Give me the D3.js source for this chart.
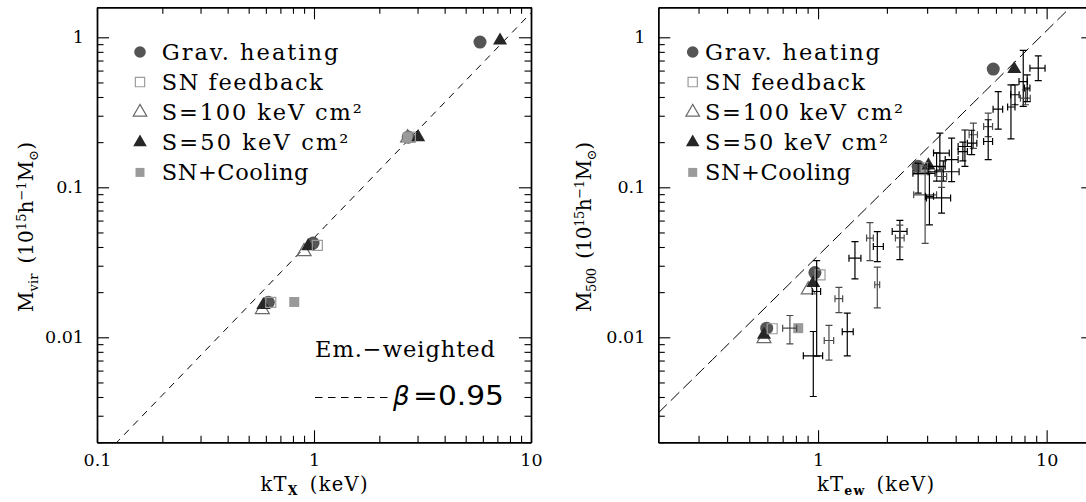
<!DOCTYPE html>
<html><head><meta charset="utf-8">
<script src="https://cdn.jsdelivr.net/npm/d3@7"></script>
<style>
html,body{margin:0;padding:0;background:#fff;overflow:hidden}
svg{display:block}
text{font-family:"DejaVu Serif",serif;fill:#000}
</style></head><body>
<svg id="fig" width="1086" height="502"></svg>
<script>
// ---------------- data ----------------
const massTicks = [0.01, 0.1, 1];
const massTickLabels = ["0.01", "0.1", "1"];
const massMinor = [0.002,0.003,0.004,0.005,0.006,0.007,0.008,0.009,
                   0.02,0.03,0.04,0.05,0.06,0.07,0.08,0.09,
                   0.2,0.3,0.4,0.5,0.6,0.7,0.8,0.9];
const txTicks = [0.1, 1, 10];
const txTickLabels = ["0.1", "1", "10"];
const txMinor = [0.2,0.3,0.4,0.5,0.6,0.7,0.8,0.9,2,3,4,5,6,7,8,9];
const tewTicks = [1, 10];
const tewTickLabels = ["1", "10"];
const tewMinor = [0.3,0.4,0.5,0.6,0.7,0.8,0.9,2,3,4,5,6,7,8,9];

const seriesNames = ["Grav. heating", "SN feedback", "S=100 keV cm\u00b2", "S=50 keV cm\u00b2", "SN+Cooling"];

// left panel: emission-weighted kT_X (keV) vs M_vir (1e15 h^-1 Msun)
const gravTX   = [0.616, 0.99, 2.72, 5.82];
const gravMvir = [0.0171, 0.0425, 0.216, 0.929];
const snfbTX   = [0.632, 1.036, 2.78];
const snfbMvir = [0.0171, 0.041, 0.216];
const s100TX   = [0.578, 0.90, 2.70];
const s100Mvir = [0.0153, 0.0373, 0.214];
const s50TX    = [0.584, 0.94, 3.02, 7.2];
const s50Mvir  = [0.0164, 0.0405, 0.216, 0.952];
const sncTX    = [0.811, 2.70];
const sncMvir  = [0.0172, 0.215];

// right panel: kT_ew (keV) vs M_500
const gravTew  = [0.596, 0.969, 2.74, 5.84];
const gravM500 = [0.0115, 0.027, 0.138, 0.614];
const snfbTew  = [0.63, 1.02, 2.88];
const snfbM500 = [0.0114, 0.0261, 0.135];
const s100Tew  = [0.58, 0.906, 2.80];
const s100M500 = [0.0098, 0.0207, 0.130];
const s50Tew   = [0.58, 0.953, 3.04, 7.22];
const s50M500  = [0.0104, 0.023, 0.140, 0.614];
const sncTew   = [0.819, 2.95];
const sncM500  = [0.0115, 0.130];

// observed clusters with errors (T, T range, M500, M500 range, grey set flag)
const obsT   = [0.753,0.953,0.986,1.116,1.234,1.342,1.45,1.686,1.816,1.816,2.28,2.28,
                2.74,2.94,3.07,3.47,3.30,3.41,3.53,3.84,3.47,4.39,4.78,4.70,4.30,
                5.55,5.55,6.14,6.98,7.27,7.90,8.08,8.22,9.19];
const obsTlo = [0.70,0.862,0.943,1.064,1.186,1.276,1.365,1.63,1.745,1.77,2.11,2.18,
                2.60,2.62,2.95,2.98,3.05,3.20,3.03,3.60,3.30,4.10,4.58,4.50,4.10,
                5.30,5.30,5.83,6.75,6.96,7.57,7.68,8.00,8.45];
const obsThi = [0.806,1.047,1.026,1.17,1.281,1.425,1.54,1.745,1.93,1.86,2.45,2.38,
                3.25,3.30,3.20,3.80,3.60,3.75,4.14,4.10,3.65,4.70,4.98,4.95,4.50,
                5.80,5.80,6.42,7.27,7.58,8.24,8.48,8.45,9.84];
const obsM   = [0.0115,0.00753,0.0202,0.00952,0.0181,0.0109,0.0337,0.0459,0.0403,0.0224,0.0508,0.046,
                0.124,0.0891,0.0871,0.085,0.138,0.169,0.127,0.153,0.118,0.187,0.224,0.197,0.173,
                0.254,0.202,0.332,0.343,0.414,0.507,0.393,0.459,0.623];
const obsMlo = [0.00905,0.00403,0.0075,0.00705,0.0146,0.00753,0.0245,0.0324,0.032,0.0157,0.0329,0.040,
                0.0915,0.0423,0.0562,0.0673,0.110,0.130,0.110,0.109,0.100,0.138,0.182,0.165,0.150,
                0.218,0.153,0.244,0.210,0.355,0.346,0.355,0.373,0.515];
const obsMhi = [0.01397,0.01093,0.0324,0.012,0.0215,0.0145,0.0435,0.0582,0.0507,0.0294,0.0601,0.056,
                0.145,0.138,0.124,0.118,0.170,0.230,0.150,0.213,0.135,0.241,0.268,0.240,0.200,
                0.312,0.282,0.435,0.482,0.482,0.817,0.447,0.562,0.753];
const obsGrey = [1,0,0,1,1,0,0,1,0,1,0,1,
                 0,1,0,0,0,0,0,0,1,0,1,0,0,
                 1,0,0,0,0,0,1,0,0];

// scaling-relation slope and normalisations (beta = 0.95)
const relSlope = 1.5;
const relNormX = 0.046;
const relNormEw = 0.035;

// ---------------- drawing ----------------
const svg = d3.select("#fig");
const massDomain = [Math.pow(10,-2.7), Math.pow(10,0.2)];
const top0 = 7.3, bot0 = 442.3;

const styles = {
  grav: {sym: d3.symbolCircle, size: 133, fill: "#555", stroke: "none"},
  snfb: {sym: d3.symbolSquare, size: 100, fill: "none", stroke: "#9c9c9c"},
  s100: {sym: d3.symbolTriangle, size: 85, fill: "none", stroke: "#6a6a6a"},
  s50:  {sym: d3.symbolTriangle, size: 85, fill: "#262626", stroke: "none"},
  snc:  {sym: d3.symbolSquare, size: 100, fill: "#9a9a9a", stroke: "none"}
};
const legendSize = {grav: 106, snfb: 86, s100: 80, s50: 80, snc: 81};
const legendKeys = ["grav","snfb","s100","s50","snc"];

function makePanel(id, xDom, xLeft, xRight) {
  const g = svg.append("g").attr("id", id);
  const x = d3.scaleLog().domain(xDom).range([xLeft, xRight]);
  const y = d3.scaleLog().domain(massDomain).range([bot0, top0]);
  g.append("clipPath").attr("id", id + "-clip").append("rect")
    .attr("x", xLeft).attr("y", top0).attr("width", xRight - xLeft).attr("height", bot0 - top0);
  return {g, x, y};
}

function drawAxes(p, xMajor, xLabels, xMinor) {
  const {g, x, y} = p;
  const [X0, X1] = x.range();
  const lab = (vals, labels) => d => labels[vals.indexOf(d)];
  const style = sel => {
    sel.attr("font-size", null).attr("font-family", null);
    sel.selectAll("path.domain").attr("stroke", "#000").attr("stroke-width", 1.4);
    sel.selectAll(".tick line").attr("stroke", "#000").attr("stroke-width", 1.1);
    sel.selectAll(".tick text").style("font-size", "17.5px").attr("fill", "#000");
  };
  // bottom
  g.append("g").attr("transform", `translate(0,${bot0})`)
    .call(d3.axisBottom(x).tickValues(xMajor).tickFormat(lab(xMajor, xLabels)).tickSizeInner(-12).tickSizeOuter(0).tickPadding(11)).call(style);
  g.append("g").attr("transform", `translate(0,${bot0})`)
    .call(d3.axisBottom(x).tickValues(xMinor).tickFormat("").tickSizeInner(-6.5).tickSizeOuter(0)).call(style);
  // top
  g.append("g").attr("transform", `translate(0,${top0})`)
    .call(d3.axisTop(x).tickValues(xMajor).tickFormat("").tickSizeInner(-12).tickSizeOuter(0)).call(style);
  g.append("g").attr("transform", `translate(0,${top0})`)
    .call(d3.axisTop(x).tickValues(xMinor).tickFormat("").tickSizeInner(-6.5).tickSizeOuter(0)).call(style);
  // left
  g.append("g").attr("transform", `translate(${X0},0)`)
    .call(d3.axisLeft(y).tickValues(massTicks).tickFormat(lab(massTicks, massTickLabels)).tickSizeInner(-12).tickSizeOuter(0).tickPadding(13)).call(style);
  g.append("g").attr("transform", `translate(${X0},0)`)
    .call(d3.axisLeft(y).tickValues(massMinor).tickFormat("").tickSizeInner(-6.5).tickSizeOuter(0)).call(style);
  // right
  g.append("g").attr("transform", `translate(${X1},0)`)
    .call(d3.axisRight(y).tickValues(massTicks).tickFormat("").tickSizeInner(-12).tickSizeOuter(0)).call(style);
  g.append("g").attr("transform", `translate(${X1},0)`)
    .call(d3.axisRight(y).tickValues(massMinor).tickFormat("").tickSizeInner(-6.5).tickSizeOuter(0)).call(style);
}

function drawRelation(p, id, norm, dash) {
  const {g, x, y} = p;
  const ts = d3.range(0, 41).map(i => x.domain()[0] * Math.pow(x.domain()[1] / x.domain()[0], i / 40));
  g.append("path").attr("clip-path", `url(#${id}-clip)`)
    .attr("d", d3.line().x(t => x(t)).y(t => y(norm * Math.pow(t, relSlope)))(ts))
    .attr("fill", "none").attr("stroke", "#000").attr("stroke-width", 1).attr("stroke-dasharray", dash);
}

function drawSeries(p, key, ts, ms) {
  const {g, x, y} = p;
  const s = styles[key];
  g.append("g").selectAll("path").data(ts.map((t, i) => [t, ms[i]])).join("path")
    .attr("transform", d => `translate(${x(d[0])},${y(d[1])})`)
    .attr("d", d3.symbol(s.sym, s.size))
    .attr("fill", s.fill).attr("stroke", s.stroke).attr("stroke-width", 1.2);
}

function drawLegend(p, mx, tx, widths) {
  const {g} = p;
  legendKeys.forEach((k, i) => {
    const s = styles[k];
    g.append("path").attr("transform", `translate(${mx},${52 + 30.1 * i})`)
      .attr("d", d3.symbol(s.sym, legendSize[k]))
      .attr("fill", s.fill).attr("stroke", s.stroke).attr("stroke-width", 1.2);
    g.append("text").attr("x", tx).attr("y", 59.5 + 30.1 * i)
      .style("font-size", "22.5px")
      .attr("textLength", widths[i]).attr("lengthAdjust", "spacing")
      .text(seriesNames[i]);
  });
}

function massTitle(g, bx, cy, sub, len) {
  const t = g.append("text").attr("transform", `translate(${bx},${cy}) rotate(-90)`)
    .attr("text-anchor", "middle").style("font-size", "20px")
    .attr("textLength", len).attr("lengthAdjust", "spacing");
  t.append("tspan").text("M");
  t.append("tspan").attr("dy", 5).style("font-size", "13px").text(sub);
  t.append("tspan").attr("dy", -5).text("\u2002(10");
  t.append("tspan").attr("dy", -7).style("font-size", "13px").text("15");
  t.append("tspan").attr("dy", 7).text("h");
  t.append("tspan").attr("dy", -7).style("font-size", "13px").text("\u22121");
  t.append("tspan").attr("dy", 7).text("M");
  t.append("tspan").attr("dy", 5).style("font-size", "13px").text("\u2299");
  t.append("tspan").attr("dy", -5).text(")");
}

function tempTitle(g, cx, by, sub, len) {
  const t = g.append("text").attr("x", cx).attr("y", by).attr("text-anchor", "middle").style("font-size", "19.5px")
    .attr("textLength", len).attr("lengthAdjust", "spacing");
  t.append("tspan").text("kT");
  t.append("tspan").attr("dy", 4).style("font-size", "12.5px").style("font-weight", "bold").text(sub);
  t.append("tspan").attr("dy", -4).text("\u2002(keV)");
}

// ---- left panel ----
const L = makePanel("left", [0.1, 10], 97, 531);
drawRelation(L, "left", relNormX, "7,6");
drawSeries(L, "s100", s100TX, s100Mvir);
drawSeries(L, "grav", gravTX, gravMvir);
drawSeries(L, "snc", sncTX, sncMvir);
drawSeries(L, "s50", s50TX, s50Mvir);
drawSeries(L, "snfb", snfbTX, snfbMvir);
drawAxes(L, txTicks, txTickLabels, txMinor);
drawLegend(L, 140, 161.7, [176.7, 161, 200, 186.7, 146.7]);
massTitle(L.g, 33, 227, "vir", 170);
tempTitle(L.g, 314, 491, "X", 107);

L.g.append("text").attr("x", 315).attr("y", 357).style("font-size", "22.5px")
  .attr("textLength", 180).attr("lengthAdjust", "spacing").text("Em.\u2212weighted");
L.g.append("line").attr("x1", 315).attr("x2", 389).attr("y1", 397.5).attr("y2", 397.5)
  .attr("stroke", "#000").attr("stroke-width", 1).attr("stroke-dasharray", "7.5,5.5");
L.g.append("text").attr("x", 393).attr("y", 405).style("font-family", "'DejaVu Sans',sans-serif")
  .style("font-size", "26px").style("font-style", "italic").text("\u03b2");
L.g.append("text").attr("x", 413).attr("y", 405).style("font-family", "'DejaVu Sans',sans-serif")
  .style("font-size", "26px").attr("textLength", 91).attr("lengthAdjust", "spacingAndGlyphs").text("=0.95");

// ---- right panel ----
const R = makePanel("right", [0.2, 16], 658.3, 1093.3);
drawRelation(R, "right", relNormEw, "12,5.5");
drawSeries(R, "s100", s100Tew, s100M500);
drawSeries(R, "grav", gravTew, gravM500);
drawSeries(R, "snc", sncTew, sncM500);
drawSeries(R, "s50", s50Tew, s50M500);
drawSeries(R, "snfb", snfbTew, snfbM500);

// observed clusters: crosses with capped error bars
const cap = 3.5;
const obs = obsT.map((t, i) => ({t, tl: obsTlo[i], th: obsThi[i], m: obsM[i], ml: obsMlo[i], mh: obsMhi[i], grey: obsGrey[i]}));
const eb = R.g.append("g").attr("stroke-width", 1.2).attr("fill", "none");
obs.forEach(d => {
  const c = d.grey ? "#4a4a4a" : "#000";
  const px = R.x(d.t), py = R.y(d.m);
  const xl = R.x(d.tl), xh = R.x(d.th), yl = R.y(d.ml), yh = R.y(d.mh);
  const path = d3.path();
  path.moveTo(xl, py); path.lineTo(xh, py);
  path.moveTo(xl, py - cap); path.lineTo(xl, py + cap);
  path.moveTo(xh, py - cap); path.lineTo(xh, py + cap);
  path.moveTo(px, yl); path.lineTo(px, yh);
  path.moveTo(px - cap, yl); path.lineTo(px + cap, yl);
  path.moveTo(px - cap, yh); path.lineTo(px + cap, yh);
  eb.append("path").attr("d", path.toString()).attr("stroke", c);
});

drawAxes(R, tewTicks, tewTickLabels, tewMinor);
drawLegend(R, 692.7, 705, [175, 160, 198, 183, 146]);
massTitle(R.g, 591, 227, "500", 170);
tempTitle(R.g, 875.5, 491, "ew", 117);
</script>
</body></html>
